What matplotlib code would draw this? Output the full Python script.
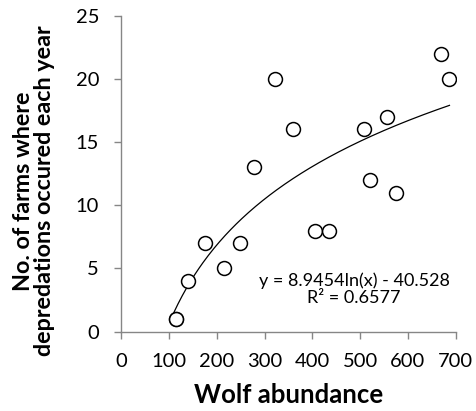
import numpy as np
import matplotlib
matplotlib.use('Agg')
import matplotlib.pyplot as plt

plt.rcParams['font.family'] = ['Lato', 'DejaVu Sans']

# wolf abundance vs farms with depredations
wolves = [114, 115, 140, 175, 215, 249, 278, 321, 360, 405, 434, 508, 521, 557, 576, 670, 687]
farms = [1, 1, 4, 7, 5, 7, 13, 20, 16, 8, 8, 16, 12, 17, 11, 22, 20]

# logarithmic trend line from the chart
coef_a = 8.9454
coef_b = -40.528
r_squared = 0.6577
trend_x_start = 110
trend_x_end = 687

x_ticks = [0, 100, 200, 300, 400, 500, 600, 700]
y_ticks = [0, 5, 10, 15, 20, 25]

fig = plt.figure(figsize=(4.76, 4.11), dpi=100)
ax = fig.add_axes([0.2549, 0.193, 0.7024, 0.7688])

ax.scatter(wolves, farms, s=100, facecolors='white', edgecolors='black',
           linewidths=1.1, zorder=3)

tx = np.linspace(trend_x_start, trend_x_end, 200)
ty = coef_a * np.log(tx) + coef_b
ax.plot(tx, ty, color='black', linewidth=0.9, zorder=2)

ax.text(487, 3.34, f'y = {coef_a}ln(x) - {abs(coef_b)}\nR² = {r_squared}',
        ha='center', va='center', multialignment='center',
        fontsize=13, linespacing=1.1)

ax.set_xlim(0, 700)
ax.set_ylim(0, 25)
ax.set_xticks(x_ticks)
ax.set_yticks(y_ticks)

for side in ['top', 'right']:
    ax.spines[side].set_visible(False)
for side in ['left', 'bottom']:
    ax.spines[side].set_color('#868686')
    ax.spines[side].set_linewidth(1.0)

ax.tick_params(axis='both', colors='#868686', labelcolor='black',
               labelsize=14.5, length=5, width=1.0)
ax.tick_params(axis='y', pad=11)
ax.tick_params(axis='x', pad=10)

ax.set_xlabel('Wolf abundance', fontsize=18.5, fontweight='bold', labelpad=10)
ax.set_ylabel('No. of farms where\ndepredations occured each year',
              fontsize=16.8, fontweight='bold', linespacing=1.0)
ax.yaxis.set_label_coords(-0.198, 0.445)

fig.savefig('out.png', dpi=100)
